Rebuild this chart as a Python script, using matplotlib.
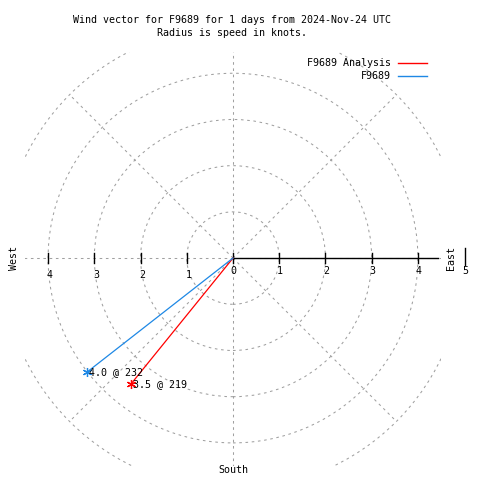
import numpy as np
import matplotlib
matplotlib.use('Agg')
from matplotlib import pyplot as plt
from matplotlib.patches import Circle
from matplotlib.lines import Line2D

names = ['F9689 Analysis', 'F9689']
speeds = [3.5, 4.0]          # knots
directions = [219, 232]      # degrees, clockwise from north
colors = ['#ff0000', '#1e88e5']

rings = [1, 2, 3, 4, 5]
spokes = [0, 45, 90, 135, 180, 225, 270, 315]
r_ticks = [0, 1, 2, 3, 4]

plt.rcParams['font.family'] = 'DejaVu Sans Mono'
fs = 7.2
grid_kw = dict(color='#a0a0a0', lw=0.75, ls=(0, (2.5, 3.5)))

fig = plt.figure(figsize=(4.8, 4.8), dpi=100)
ax = fig.add_axes([25 / 480, 14 / 480, 416 / 480, 414 / 480])
ax.set_xlim(-4.5, 4.5)
ax.set_ylim(-4.5, 4.46)
ax.axis('off')

# dashed grid: rings and spokes
for r in rings:
    ax.add_patch(Circle((0, 0), r, fill=False, **grid_kw))
for a in spokes:
    t = np.radians(a)
    ax.plot([0, 5 * np.sin(t)], [0, 5 * np.cos(t)], **grid_kw)

# radius axis on the east side
ax.plot([0, 4.43], [0, 0], color='black', lw=1)
tick_h = 0.11
for r in r_ticks[1:] + [-x for x in r_ticks]:
    ax.plot([r, r], [-tick_h, tick_h], color='black', lw=1)
ax.plot([5.02, 5.02], [-0.15, 0.22], color='black', lw=1, clip_on=False)
for r in r_ticks:
    ax.text(r + 0.01, -0.28, str(r), fontsize=fs, ha='center', va='center')
for r in r_ticks[1:]:
    ax.text(-r + 0.04, -0.37, str(r), fontsize=fs, ha='center', va='center')
ax.text(5.02, -0.28, '5', fontsize=fs, ha='center', va='center', clip_on=False)

# wind vectors
for name, s, d, c in zip(names, speeds, directions, colors):
    t = np.radians(d)
    x, y = s * np.sin(t), s * np.cos(t)
    ax.plot([0, x], [0, y], color=c, lw=0.9)
    ax.plot([x], [y], marker=(6, 2, 0), color=c, ms=6.5, mew=0.9)
    ax.text(x + 0.03, y, '%.1f @ %d' % (s, d), fontsize=fs, ha='left', va='center')

# compass labels
fig.text(14 / 480, 1 - 258 / 480, 'West', fontsize=fs, rotation=90, ha='center', va='center')
fig.text(451 / 480, 1 - 258 / 480, 'East', fontsize=fs, rotation=90, ha='center', va='center')
fig.text(233 / 480, 1 - 470 / 480, 'South', fontsize=fs, ha='center', va='center')

# title
fig.text(232 / 480, 1 - 20 / 480, 'Wind vector for F9689 for 1 days from 2024-Nov-24 UTC',
         fontsize=fs, ha='center', va='center')
fig.text(232 / 480, 1 - 33 / 480, 'Radius is speed in knots.', fontsize=fs, ha='center', va='center')

# key
for i, (name, c) in enumerate(zip(names, colors)):
    yy = 1 - (63 + 13 * i) / 480
    fig.text(391 / 480, yy, name, fontsize=fs, ha='right', va='center')
    fig.add_artist(Line2D([398 / 480, 427 / 480], [yy, yy], color=c, lw=1))

plt.savefig('out.png', dpi=100)
